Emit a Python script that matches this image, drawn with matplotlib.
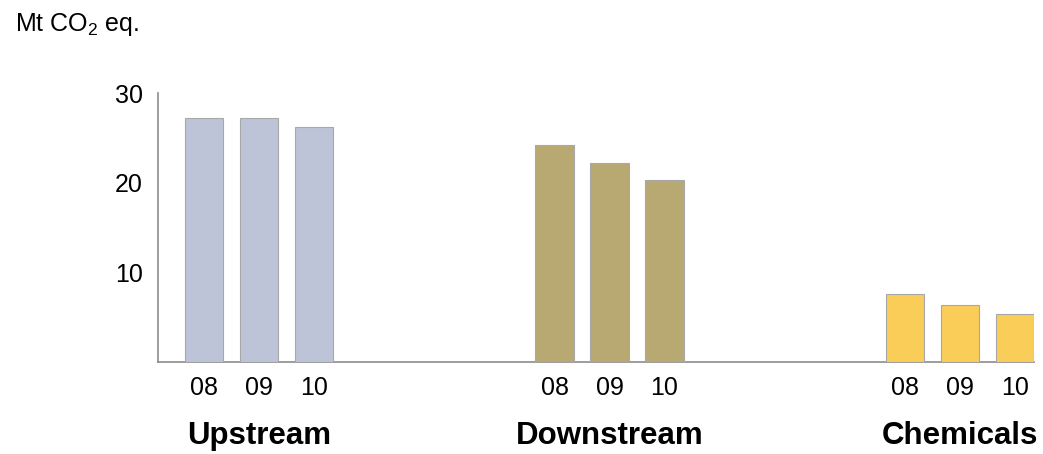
import numpy as np
import matplotlib.pyplot as plt
import matplotlib as mpl

mpl.rcParams['font.family'] = 'Liberation Sans'
mpl.rcParams['mathtext.fontset'] = 'custom'
mpl.rcParams['mathtext.rm'] = 'Liberation Sans'
mpl.rcParams['mathtext.default'] = 'regular'

# emissions by segment, Mt CO2 eq.
segments = ['Upstream', 'Downstream', 'Chemicals']
years = ['08', '09', '10']
upstream = [27.2, 27.2, 26.2]
downstream = [24.2, 22.2, 20.3]
chemicals = [7.55, 6.4, 5.4]
values = [upstream, downstream, chemicals]
colors = ['#bec4d7', '#b8a972', '#f9cd58']

gap = 6.37   # distance between segment groups, in bar slots
width = 0.7

fig = plt.figure(figsize=(10.43, 4.54), dpi=100)
ax = fig.add_axes([0.1515, 0.2026, 0.8400, 0.5925])

pos, labels = [], []
for g, (seg, vals, col) in enumerate(zip(segments, values, colors)):
    x = g * gap + np.arange(len(years))
    ax.bar(x, vals, width=width, color=col, edgecolor='#a8a8a8',
           linewidth=0.8, zorder=3)
    pos.extend(x)
    labels.extend(years)
    ax.text(x.mean(), -0.275, seg, transform=ax.get_xaxis_transform(),
            ha='center', va='center', fontsize=22.5, fontweight='bold')

ax.set_xlim(-0.84, 2 * gap + 2 + width / 2)
ax.set_ylim(0, 30)
ax.set_yticks([10, 20, 30])
ax.set_xticks(pos)
ax.set_xticklabels(labels)
ax.tick_params(axis='both', length=0, labelsize=18)
ax.tick_params(axis='x', pad=10)
ax.tick_params(axis='y', pad=11)

for s in ['top', 'right']:
    ax.spines[s].set_visible(False)
for s in ['left', 'bottom']:
    ax.spines[s].set_color('#8c8c8c')
    ax.spines[s].set_linewidth(1.2)

fig.text(15 / 1043, 1 - 25 / 454, 'Mt CO$_2$ eq.', ha='left', va='center',
         fontsize=18)

fig.savefig('out.png', dpi=100)
